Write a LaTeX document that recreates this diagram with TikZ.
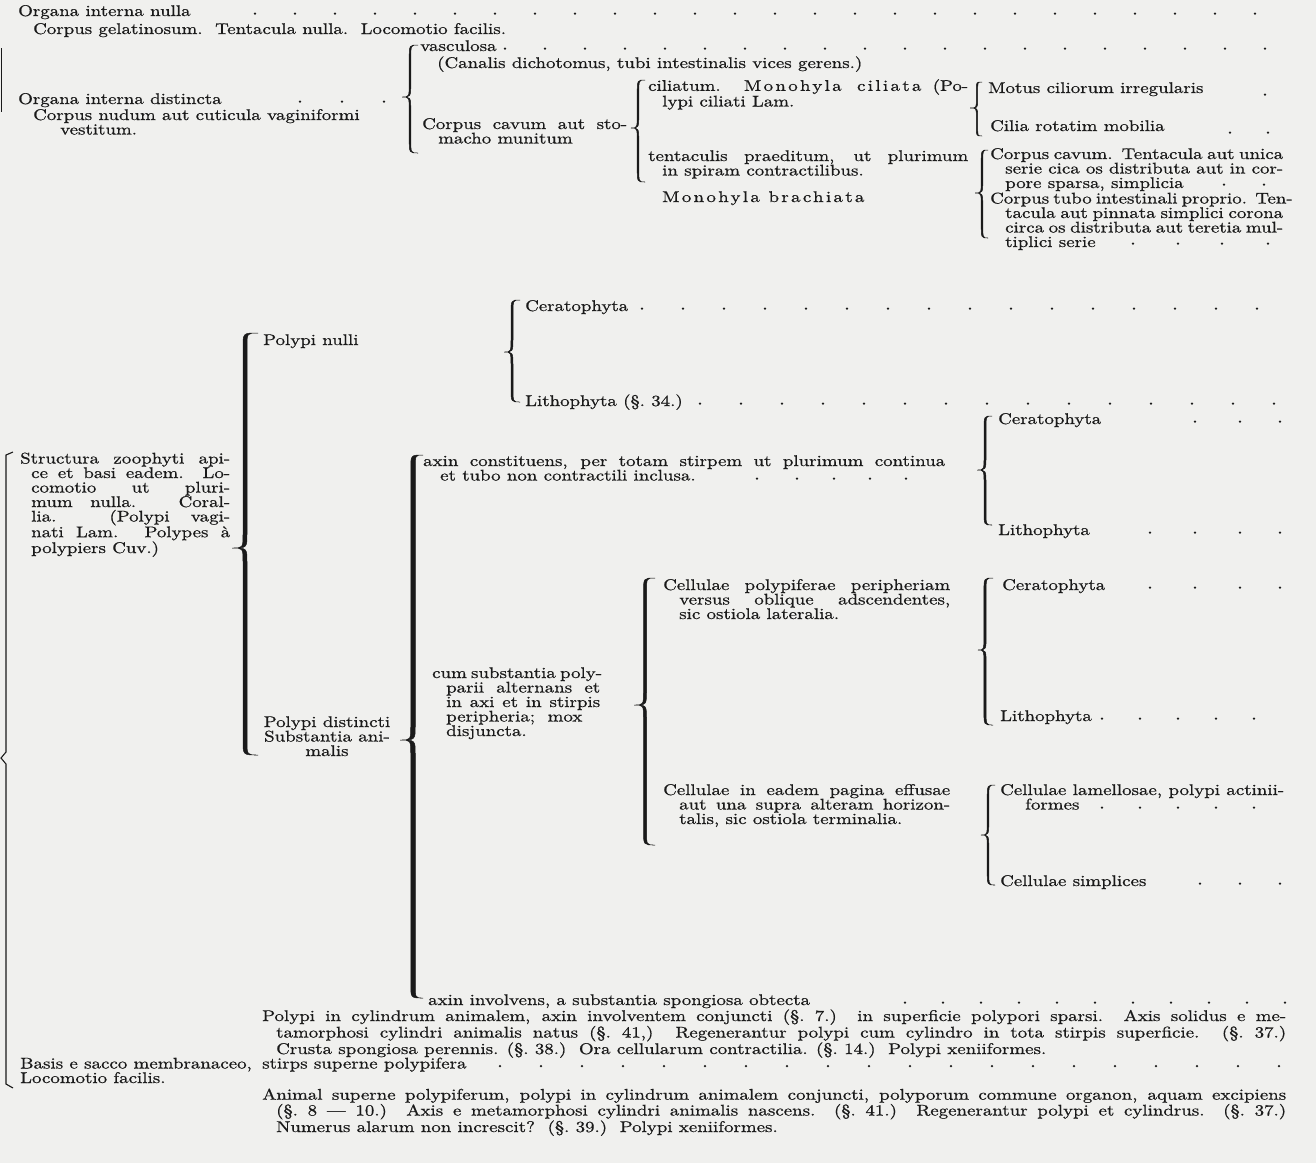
\documentclass[tikz,border=0pt]{standalone}
\usepackage{fontspec}
\setmainfont{lmroman10-regular.otf}[FakeStretch=1.22, FakeBold=0.7]
\definecolor{paper}{HTML}{F0F0EE}
\definecolor{ink}{HTML}{1A1A1A}
\tikzset{
  % one key entry, placed at the baseline of its last line
  txt/.style  = {inner sep=0pt, anchor=base west, text=ink, align=left,
                 font=\fontsize{15.5pt}{14.5pt}\selectfont},
  ctxt/.style = {txt, anchor=base, align=center},
}
% justified line of given width (pt)
\newcommand{\jl}[2]{\makebox[#1pt][s]{#2}}
% spaced-out printing of names
\newcommand{\sperr}[1]{{\addfontfeature{LetterSpace=15}#1}}
% leader dots on a baseline
\newcommand{\dotrow}[2]{\foreach \x in {#2} {\fill[ink] (\x,#1-2.4) circle (1.3pt);}}
% tapered brace opening to the right: xend, xcol, xtip, ytop, ytip, ybot, width
\newcommand{\kbrace}[7]{%
  \pgfmathsetmacro{\bL}{#2-#7/2}\pgfmathsetmacro{\bR}{#2+#7/2}%
  \pgfmathsetmacro{\bda}{min(14,0.3*(#5-#4))}\pgfmathsetmacro{\bdb}{min(14,0.3*(#6-#5))}%
  \pgfmathsetmacro{\bya}{#4+\bda}\pgfmathsetmacro{\byb}{#5-\bda}%
  \pgfmathsetmacro{\byc}{#5+\bdb}\pgfmathsetmacro{\byd}{#6-\bdb}%
  \filldraw[ink, line width=0.5pt]
    (#1,#4) .. controls (\bL,#4) .. (\bL,\bya) -- (\bL,\byb) .. controls (\bL,#5) .. (#3,#5)
    .. controls (\bL,#5) .. (\bL,\byc) -- (\bL,\byd) .. controls (\bL,#6) .. (#1,#6)
    .. controls (\bR,#6) .. (\bR,\byd) -- (\bR,\byc) .. controls (\bR,#5) .. (#3,#5)
    .. controls (\bR,#5) .. (\bR,\byb) -- (\bR,\bya) .. controls (\bR,#4) .. (#1,#4) -- cycle;}

\begin{document}
\begin{tikzpicture}[x=1pt,y=-1pt]
\fill[paper] (0,0) rectangle (1316,1163);

% --- upper part: organa interna -----------------------------------------
\node[txt] (nulla) at (18,16) {Organa interna nulla};
\node[txt] (gelat) at (33,34) {Corpus gelatinosum.\ \ Tentacula nulla.\ \ Locomotio facilis.};
\node[txt] (dist)  at (18,104) {Organa interna distincta};
\node[txt] (nudum) at (33,134.5) {Corpus nudum aut cuticula vaginiformi\\\hspace*{27pt}vestitum.};
\node[txt] (vasc)  at (420,51) {vasculosa};
\node[txt] (canal) at (437,68) {(Canalis dichotomus, tubi intestinalis vices gerens.)};
\node[txt] (cavum) at (422,143.5) {\jl{205}{Corpus cavum aut sto-}\\\hspace*{16pt}macho munitum};
\node[txt] (cil)   at (648,106.5) {\jl{320}{ciliatum. \sperr{Monohyla ciliata} (Po-}\\\hspace*{14pt}lypi ciliati Lam.};
\node[txt] (tent)  at (648,175.5) {\jl{320}{tentaculis praeditum, ut plurimum}\\\hspace*{14pt}in spiram contractilibus.};
\node[txt] (brach) at (662,202) {\sperr{Monohyla brachiata}};
\node[txt] (motus) at (988,93) {Motus ciliorum irregularis};
\node[txt] (cilia) at (990,131) {Cilia rotatim mobilia};
\node[txt] (cav1)  at (990,188) {\jl{293}{Corpus cavum.\ \ Tentacula aut unica}\\
  \hspace*{15pt}\jl{278}{serie cica os distributa aut in cor-}\\\hspace*{15pt}pore sparsa, simplicia};
\node[txt] (cav2)  at (990,247) {\jl{293}{Corpus tubo intestinali proprio.\ \ Ten-}\\
  \hspace*{15pt}\jl{278}{tacula aut pinnata simplici corona}\\
  \hspace*{15pt}\jl{278}{circa os distributa aut teretia mul-}\\\hspace*{15pt}tiplici serie};

\draw[ink, line width=0.9pt] (1.5,48) -- (1.5,112);
\kbrace{418}{410}{402}{45}{97}{153}{1.6}
\kbrace{645}{638}{631}{80}{128}{182}{1.6}
\kbrace{982}{977}{970}{82}{108}{136}{1.4}
\kbrace{988}{982}{975}{150}{193}{238}{1.6}

\dotrow{16}{255,295,...,1285}
\dotrow{51}{505,545,...,1285}
\dotrow{104}{300,342,384}
\dotrow{97}{1265}
\dotrow{135}{1230,1268}
\dotrow{187}{1224,1264}
\dotrow{246}{1133,1178,1222,1268}

% --- middle part: corallia ------------------------------------------------
\node[txt] (cera1) at (525,311) {Ceratophyta};
\node[txt] (pnul)  at (263,345) {Polypi nulli};
\node[txt] (lith1) at (525,406) {Lithophyta (§.~34.)};
\node[txt] (cera2) at (998,424) {Ceratophyta};
\node[txt] (axc)   at (423,480.5) {\jl{522}{axin constituens, per totam stirpem ut plurimum continua}\\\hspace*{17pt}et tubo non contractili inclusa.};
\node[txt] (struct) at (20,553) {\jl{210}{Structura zoophyti api-}\\\hspace*{11pt}\jl{199}{ce et basi eadem. Lo-}\\
  \hspace*{11pt}\jl{199}{comotio ut pluri-}\\\hspace*{11pt}\jl{199}{mum nulla. Coral-}\\
  \hspace*{11pt}\jl{199}{lia. (Polypi vagi-}\\\hspace*{11pt}\jl{199}{nati Lam. Polypes à}\\\hspace*{11pt}polypiers Cuv.)};
\node[txt] (lith2) at (998,535) {Lithophyta};
\node[txt] (polyp) at (663,619) {\jl{287}{Cellulae polypiferae peripheriam}\\\hspace*{16pt}\jl{271}{versus oblique adscendentes,}\\\hspace*{16pt}sic ostiola lateralia.};
\node[txt] (cera3) at (1002,590) {Ceratophyta};
\node[txt] (cum)   at (432,736) {\jl{168}{cum substantia poly-}\\\hspace*{14pt}\jl{154}{parii alternans et}\\
  \hspace*{14pt}\jl{154}{in axi et in stirpis}\\\hspace*{14pt}peripheria;\ \ mox\\\hspace*{14pt}disjuncta.};
\node[ctxt] (pdist) at (327,756) {Polypi distincti\\Substantia ani-\\malis};
\node[txt] (lith3) at (1000,721) {Lithophyta};
\node[txt] (eadem) at (663,824) {\jl{287}{Cellulae in eadem pagina effusae}\\\hspace*{16pt}\jl{271}{aut una supra alteram horizon-}\\\hspace*{16pt}talis, sic ostiola terminalia.};
\node[txt] (lamel) at (1000,809.5) {\jl{284}{Cellulae lamellosae, polypi actinii-}\\\hspace*{25pt}formes};
\node[txt] (simpl) at (1000,886) {Cellulae simplices};

\kbrace{520}{512}{504}{300}{352}{402}{2}
\kbrace{258}{245}{232}{333}{548}{755}{4}
\kbrace{423}{413}{400}{455}{740}{998}{4.5}
\kbrace{992}{985}{977}{416}{470}{525}{2}
\kbrace{655}{645}{634}{578}{705}{845}{3}
\kbrace{993}{985}{978}{578}{650}{725}{2.2}
\kbrace{995}{988}{981}{785}{835}{885}{1.6}

\dotrow{311}{642,683,...,1290}
\dotrow{406}{700,741,...,1290}
\dotrow{424}{1195,1240,1280}
\dotrow{481}{757,797,834,870,906}
\dotrow{535}{1150,1195,1240,1280}
\dotrow{590}{1150,1195,1240,1280}
\dotrow{721}{1102,1140,...,1290}
\dotrow{810}{1102,1140,...,1290}
\dotrow{886}{1200,1240,1280}

% --- lower part ---------------------------------------------------------
\node[txt] (ainv)  at (428,1005) {axin involvens, a substantia spongiosa obtecta};
\node[txt] (cylin) at (262,1054) {\jl{1024}{Polypi in cylindrum animalem, axin involventem conjuncti (§.~7.) in superficie polypori sparsi.\ \ Axis solidus e me-}\\
  \hspace*{14pt}\jl{1010}{tamorphosi cylindri animalis natus (§.~41,)\ \ Regenerantur polypi cum cylindro in tota stirpis superficie. (§.~37.)}\\
  \hspace*{14pt}Crusta spongiosa perennis. (§.~38.)\ \ Ora cellularum contractilia. (§.~14.)\ \ Polypi xeniiformes.};
\node[txt] (basis) at (20,1083) {Basis e sacco membranaceo,\\Locomotio facilis.};
\node[txt] (stirps) at (262,1068.5) {stirps superne polypifera};
\node[txt] (anim)  at (262,1132) {\jl{1024}{Animal superne polypiferum, polypi in cylindrum animalem conjuncti, polyporum commune organon, aquam excipiens}\\
  \hspace*{14pt}\jl{1010}{(§.~8 --- 10.)\ \ Axis e metamorphosi cylindri animalis nascens. (§.~41.)\ \ Regenerantur polypi et cylindrus. (§.~37.)}\\
  \hspace*{14pt}Numerus alarum non increscit?\ \ (§.~39.)\ \ Polypi xeniiformes.};

\draw[ink, line width=1.1pt] (13,452) -- (6,455) -- (6,752) -- (1,758) -- (6,764) -- (6,1084) -- (13,1088);

\dotrow{1005}{905,943,...,1285}
\dotrow{1068.5}{500,541,...,1285}
\end{tikzpicture}
\end{document}
